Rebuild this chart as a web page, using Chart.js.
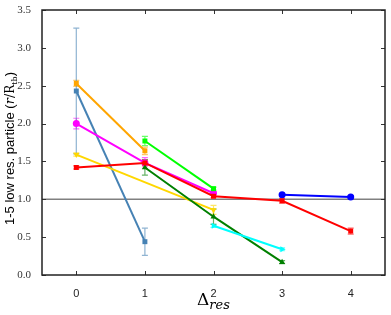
<!DOCTYPE html>
<html>
<head>
<meta charset="utf-8">
<script src="https://cdn.jsdelivr.net/npm/chart.js@4.4.0/dist/chart.umd.min.js"></script>
<style>
  html, body { margin: 0; padding: 0; background: #fff; }
  #wrap { width: 391px; height: 315px; }
</style>
</head>
<body>
<div id="wrap"><canvas id="chart"></canvas></div>
<script>
// ---- data ----
const xTicks = [0, 1, 2, 3, 4];
const yTicks = [0, 0.5, 1.0, 1.5, 2.0, 2.5, 3.0, 3.5];
const refLine = 1.0;

const steelX = [0, 1];
const steelY = [2.43, 0.44];
const steelErr = [0.83, 0.18];

const orangeX = [0, 1];
const orangeY = [2.53, 1.64];
const orangeErr = [0.04, 0.05];

const magentaX = [0, 1, 2];
const magentaY = [2.0, 1.48, 1.08];
const magentaErr = [0.07, 0.07, 0.02];

const goldX = [0, 2];
const goldY = [1.59, 0.86];
const goldErr = [0.02, 0.06];

const limeX = [1, 2];
const limeY = [1.77, 1.14];
const limeErr = [0.06, 0.02];

const greenX = [1, 2, 3];
const greenY = [1.42, 0.77, 0.17];
const greenErr = [0.1, 0.1, 0.02];

const cyanX = [2, 3];
const cyanY = [0.65, 0.34];
const cyanErr = [0.02, 0.02];

const blueX = [3, 4];
const blueY = [1.06, 1.03];
const blueErr = [0.02, 0.02];

const redX = [0, 1, 2, 3, 4];
const redY = [1.42, 1.48, 1.04, 0.98, 0.58];
const redErr = [0.02, 0.04, 0.02, 0.03, 0.04];

function series(xs, ys, errs, color, style, rot) {
  return {
    data: xs.map((x, i) => ({ x: x, y: ys[i], err: errs[i] })),
    borderColor: color,
    backgroundColor: color,
    borderWidth: 2,
    pointStyle: style,
    pointRotation: rot || 0,
    pointRadius: 3.5,
    pointBorderWidth: 0,
    tension: 0,
  };
}

// inward ticks on all four sides, plus the y=1 reference line
const framePlugin = {
  id: 'frame',
  beforeDatasetsDraw(chart) {
    const { ctx, chartArea: a, scales } = chart;
    const yv = scales.y.getPixelForValue(refLine);
    ctx.save();
    ctx.strokeStyle = '#808080';
    ctx.lineWidth = 1.5;
    ctx.beginPath();
    ctx.moveTo(a.left, yv);
    ctx.lineTo(a.right, yv);
    ctx.stroke();
    ctx.restore();
  },
  afterDatasetsDraw(chart) {
    const { ctx, chartArea: a, scales } = chart;
    ctx.save();
    ctx.strokeStyle = '#333';
    ctx.lineWidth = 1;
    ctx.beginPath();
    xTicks.forEach(v => {
      const px = Math.round(scales.x.getPixelForValue(v)) + 0.5;
      ctx.moveTo(px, a.bottom); ctx.lineTo(px, a.bottom - 4);
      ctx.moveTo(px, a.top); ctx.lineTo(px, a.top + 4);
    });
    yTicks.forEach(v => {
      const py = Math.round(scales.y.getPixelForValue(v)) + 0.5;
      ctx.moveTo(a.left, py); ctx.lineTo(a.left + 4, py);
      ctx.moveTo(a.right, py); ctx.lineTo(a.right - 4, py);
    });
    ctx.stroke();
    ctx.strokeStyle = '#222';
    ctx.lineWidth = 1.5;
    ctx.strokeRect(a.left, a.top, a.right - a.left, a.bottom - a.top);
    ctx.restore();
  }
};

// error bars drawn under the markers
const errorBarPlugin = {
  id: 'errorBars',
  beforeDatasetsDraw(chart) {
    const { ctx, scales } = chart;
    ctx.save();
    chart.data.datasets.forEach(ds => {
      ctx.strokeStyle = ds.borderColor;
      ctx.globalAlpha = 0.6;
      ctx.lineWidth = 1.2;
      ds.data.forEach(p => {
        const px = scales.x.getPixelForValue(p.x);
        const top = scales.y.getPixelForValue(p.y + p.err);
        const bot = scales.y.getPixelForValue(p.y - p.err);
        ctx.beginPath();
        ctx.moveTo(px, top); ctx.lineTo(px, bot);
        ctx.moveTo(px - 3, top); ctx.lineTo(px + 3, top);
        ctx.moveTo(px - 3, bot); ctx.lineTo(px + 3, bot);
        ctx.stroke();
      });
    });
    ctx.restore();
  }
};

// axis titles with math-style parts
const titlePlugin = {
  id: 'titles',
  afterDraw(chart) {
    const { ctx, chartArea: a } = chart;
    ctx.save();
    ctx.fillStyle = '#000';
    ctx.textBaseline = 'alphabetic';

    // y title, rotated
    const parts = [
      { t: '1-5 low res. particle (', f: '13px "Liberation Sans", Arial, sans-serif', dy: 0 },
      { t: 'r', f: 'italic 13px "DejaVu Serif", serif', dy: 0 },
      { t: '/', f: '13px "DejaVu Serif", serif', dy: 0 },
      { t: 'R', f: '12px "DejaVu Serif", serif', dy: 0 },
      { t: 'tb', f: '8px "DejaVu Serif", serif', dy: 3 },
      { t: ')', f: '13px "Liberation Sans", Arial, sans-serif', dy: 0 },
    ];
    let total = 0;
    parts.forEach(p => { ctx.font = p.f; p.w = ctx.measureText(p.t).width; total += p.w; });
    ctx.translate(14, (a.top + a.bottom) / 2 + 6);
    ctx.rotate(-Math.PI / 2);
    let x = -total / 2;
    parts.forEach(p => { ctx.font = p.f; ctx.fillText(p.t, x, p.dy); x += p.w; });
    ctx.setTransform(1, 0, 0, 1, 0, 0);

    // x title
    ctx.font = '17px "DejaVu Serif", serif';
    const dW = ctx.measureText('\u0394').width;
    ctx.font = 'italic 13px "DejaVu Serif", serif';
    const sW = ctx.measureText('res').width;
    let sx = (a.left + a.right) / 2 - (dW + sW) / 2;
    ctx.font = '17px "DejaVu Serif", serif';
    ctx.fillText('\u0394', sx, 305);
    ctx.font = 'italic 13px "DejaVu Serif", serif';
    ctx.fillText('res', sx + dW, 309);
    ctx.restore();
  }
};

new Chart(document.getElementById('chart'), {
  type: 'line',
  data: {
    datasets: [
      series(redX, redY, redErr, '#ff0000', 'rect'),
      series(blueX, blueY, blueErr, '#0000ff', 'circle'),
      series(cyanX, cyanY, cyanErr, '#00ffff', 'triangle', 90),
      series(greenX, greenY, greenErr, '#008000', 'triangle'),
      series(limeX, limeY, limeErr, '#00ff00', 'rect'),
      series(goldX, goldY, goldErr, '#ffd700', 'triangle', 180),
      series(magentaX, magentaY, magentaErr, '#ff00ff', 'circle'),
      series(orangeX, orangeY, orangeErr, '#ffa500', 'rect'),
      series(steelX, steelY, steelErr, '#4682b4', 'rect'),
    ]
  },
  options: {
    responsive: true,
    maintainAspectRatio: false,
    animation: false,
    layout: {
      padding: { top: 10, right: 6, left: 0, bottom: 0 }
    },
    plugins: {
      legend: { display: false },
      tooltip: { enabled: false },
    },
    scales: {
      x: {
        type: 'linear',
        min: -0.5,
        max: 4.5,
        grid: { display: false },
        border: { display: false },
        afterBuildTicks: scale => { scale.ticks = xTicks.map(v => ({ value: v })); },
        afterFit: scale => { scale.height = 40; },
        ticks: {
          color: '#222',
          padding: 4,
          font: { family: '"Liberation Sans", Arial, sans-serif', size: 11 },
          callback: v => String(v),
        }
      },
      y: {
        min: 0,
        max: 3.5,
        grid: { display: false },
        border: { display: false },
        afterBuildTicks: scale => { scale.ticks = yTicks.map(v => ({ value: v })); },
        afterFit: scale => { scale.width = 42; },
        ticks: {
          color: '#333',
          padding: 3,
          font: { family: '"Liberation Serif", "DejaVu Serif", serif', size: 11 },
          callback: v => v.toFixed(1),
        }
      }
    }
  },
  plugins: [errorBarPlugin, framePlugin, titlePlugin]
});
</script>
</body>
</html>
